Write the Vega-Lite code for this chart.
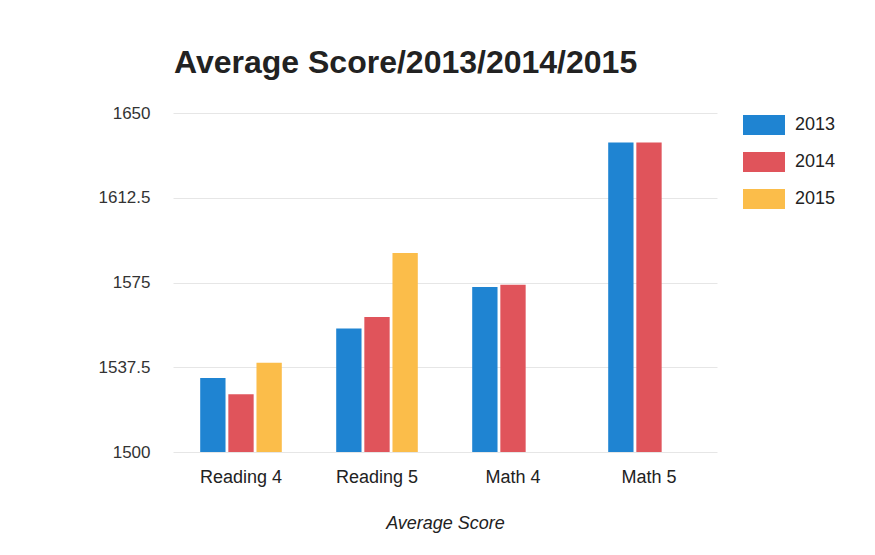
{
  "$schema": "https://vega.github.io/schema/vega-lite/v6.json",
  "autosize": {"type": "none"},
  "width": 544,
  "height": 339,
  "padding": {"left": 173, "top": 113, "right": 158, "bottom": 103},
  "background": "white",
  "title": {
    "text": "Average Score/2013/2014/2015",
    "anchor": "start",
    "frame": "group",
    "font": "Liberation Sans",
    "fontSize": 32,
    "fontWeight": "bold",
    "color": "#222222",
    "offset": 24,
    "dx": 1
  },
  "data": {
    "values": [
      {"subject": "Reading 4", "year": "2013", "score": 1532.7},
      {"subject": "Reading 4", "year": "2014", "score": 1525.5},
      {"subject": "Reading 4", "year": "2015", "score": 1539.5},
      {"subject": "Reading 5", "year": "2013", "score": 1554.6},
      {"subject": "Reading 5", "year": "2014", "score": 1559.7},
      {"subject": "Reading 5", "year": "2015", "score": 1588},
      {"subject": "Math 4", "year": "2013", "score": 1573},
      {"subject": "Math 4", "year": "2014", "score": 1574},
      {"subject": "Math 5", "year": "2013", "score": 1636.9},
      {"subject": "Math 5", "year": "2014", "score": 1636.9}
    ]
  },
  "mark": {"type": "bar", "clip": true},
  "encoding": {
    "x": {
      "field": "subject",
      "type": "nominal",
      "sort": ["Reading 4", "Reading 5", "Math 4", "Math 5"],
      "scale": {"paddingInner": 0.4, "paddingOuter": 0.2},
      "axis": {
        "title": "Average Score",
        "titleFont": "Liberation Sans",
        "titleFontSize": 18,
        "titleFontWeight": "normal",
        "titleFontStyle": "italic",
        "titleColor": "#222222",
        "titlePadding": 28,
        "labelAngle": 0,
        "labelFont": "Liberation Sans",
        "labelFontSize": 18,
        "labelColor": "#222222",
        "labelPadding": 16,
        "domain": false,
        "ticks": false,
        "grid": false
      }
    },
    "xOffset": {
      "field": "year",
      "type": "nominal",
      "scale": {"paddingInner": 0.1, "paddingOuter": 0}
    },
    "y": {
      "field": "score",
      "type": "quantitative",
      "scale": {"domain": [1500, 1650], "zero": false, "nice": false},
      "axis": {
        "title": null,
        "values": [1500, 1537.5, 1575, 1612.5, 1650],
        "labelExpr": "datum.value",
        "labelFont": "Liberation Sans",
        "labelFontSize": 17,
        "labelColor": "#333333",
        "labelPadding": 23,
        "domain": false,
        "ticks": false,
        "gridColor": "#e6e6e6",
        "gridWidth": 1
      }
    },
    "color": {
      "field": "year",
      "type": "nominal",
      "scale": {"domain": ["2013", "2014", "2015"], "range": ["#1f84d2", "#e0545b", "#fbbd4a"]},
      "legend": {
        "title": null,
        "orient": "none",
        "legendX": 570,
        "legendY": -9,
        "padding": 0,
        "symbolType": "M-1,-0.476H1V0.476H-1Z",
        "symbolSize": 1764,
        "symbolStrokeWidth": 0,
        "symbolOpacity": 1,
        "labelFont": "Liberation Sans",
        "labelFontSize": 18,
        "labelColor": "#222222",
        "labelOffset": 10,
        "rowPadding": 6
      }
    }
  },
  "config": {"view": {"stroke": null}}
}
